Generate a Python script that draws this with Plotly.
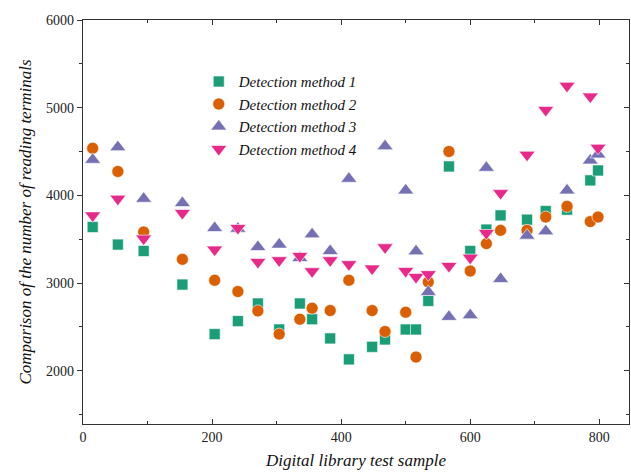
import plotly.graph_objects as go

# Data
x_common = [15, 54, 94, 154, 204, 240, 271, 304, 336, 355, 383, 412, 448, 468,
            500, 516, 535, 567, 600, 625, 647, 688, 717, 750, 786, 798]

method1 = [3639, 3439, 3366, 2983, 2418, 2566, 2767, 2471, 2767, 2588, 2369, 2130, 2273,
           2357, 2471, 2471, 2797, 4330, 3366, 3610, 3772, 3723, 3821, 3837, 4171, 4284]
method2 = [4538, 4273, 3582, 3271, 3032, 2904, 2683, 2418, 2588, 2714, 2687, 3032, 2687,
           2448, 2668, 2156, 3013, 4501, 3138, 3450, 3601, 3601, 3753, 3875, 3701, 3753]
x_method3 = [15, 54, 94, 154, 204, 240, 271, 304, 336, 355, 383, 412, 468,
             500, 516, 535, 567, 600, 625, 647, 688, 717, 750, 786, 798]
method3 = [4406, 4550, 3962, 3912, 3628, 3620, 3411, 3439, 3286, 3556, 3366, 4190,
           4561, 4057, 3362, 2899, 2615, 2634, 4315, 3047, 3541, 3590, 4057, 4398, 4467]
method4 = [3772, 3962, 3507, 3799, 3382, 3628, 3241, 3260, 3309, 3135, 3260, 3215, 3166,
           3408, 3138, 3070, 3101, 3195, 3290, 3571, 4026, 4463, 4975, 5249, 5127, 4543]

names = ["Detection method 1", "Detection method 2", "Detection method 3", "Detection method 4"]
colors = ["#1b9e77", "#d95f02", "#7570b3", "#e7298a"]
symbols = ["square", "circle", "triangle-up", "triangle-down"]
sizes = [11, 12, 14, 14]

series = [(x_common, method1), (x_common, method2), (x_method3, method3), (x_common, method4)]

SERIF = "Liberation Serif, Times New Roman, serif"

fig = go.Figure()
for (xs, ys), name, c, s, sz in zip(series, names, colors, symbols, sizes):
    fig.add_trace(go.Scatter(
        x=xs, y=ys, mode="markers", name=name,
        marker=dict(color=c, symbol=s, size=sz, line=dict(color="white", width=0.6)),
    ))

# invisible trace to carry the right-hand mirrored axis
fig.add_trace(go.Scatter(x=[0], y=[2000], yaxis="y2", mode="markers",
                         marker=dict(opacity=0), showlegend=False, hoverinfo="skip"))

axis_line = dict(showline=True, linecolor="#333333", linewidth=1.3, showgrid=False,
                 zeroline=False, tickcolor="#333333", tickwidth=1.2)

fig.update_layout(
    width=631, height=473,
    margin=dict(l=83, r=2, t=20, b=49),
    plot_bgcolor="white", paper_bgcolor="white",
    font=dict(family=SERIF, size=14, color="#222222"),
    showlegend=True,
    legend=dict(x=0.212, y=0.888, xanchor="left", yanchor="top",
                bgcolor="rgba(255,255,255,0)", borderwidth=0,
                font=dict(family=SERIF, size=15, color="#111111", style="italic"),
                tracegroupgap=0, itemsizing="trace"),
    xaxis=dict(range=[0, 846], tickvals=[0, 200, 400, 600, 800],
               ticks="inside", ticklen=5, mirror="ticks",
               minor=dict(tickvals=[100, 300, 500, 700], ticks="inside", ticklen=3,
                          tickcolor="#333333"),
               title=dict(text="Digital library test sample",
                          font=dict(family=SERIF, size=17, style="italic", color="#111111"),
                          standoff=10),
               **axis_line),
    yaxis=dict(range=[1393, 6000], tickvals=[2000, 3000, 4000, 5000, 6000],
               ticks="outside", ticklen=5,
               minor=dict(tickvals=[1500, 2500, 3500, 4500, 5500], ticks="outside", ticklen=3,
                          tickcolor="#333333"),
               title=dict(text="Comparison of the number of reading terminals",
                          font=dict(family=SERIF, size=17, style="italic", color="#111111"),
                          standoff=10),
               **axis_line),
    yaxis2=dict(overlaying="y", side="right", matches="y", range=[1393, 6000],
                tickvals=[2000, 3000, 4000, 5000, 6000], ticks="inside", ticklen=5,
                showticklabels=False,
                minor=dict(tickvals=[1500, 2500, 3500, 4500, 5500], ticks="inside", ticklen=3,
                           tickcolor="#333333"),
                **axis_line),
)

fig.write_html("out.html")
